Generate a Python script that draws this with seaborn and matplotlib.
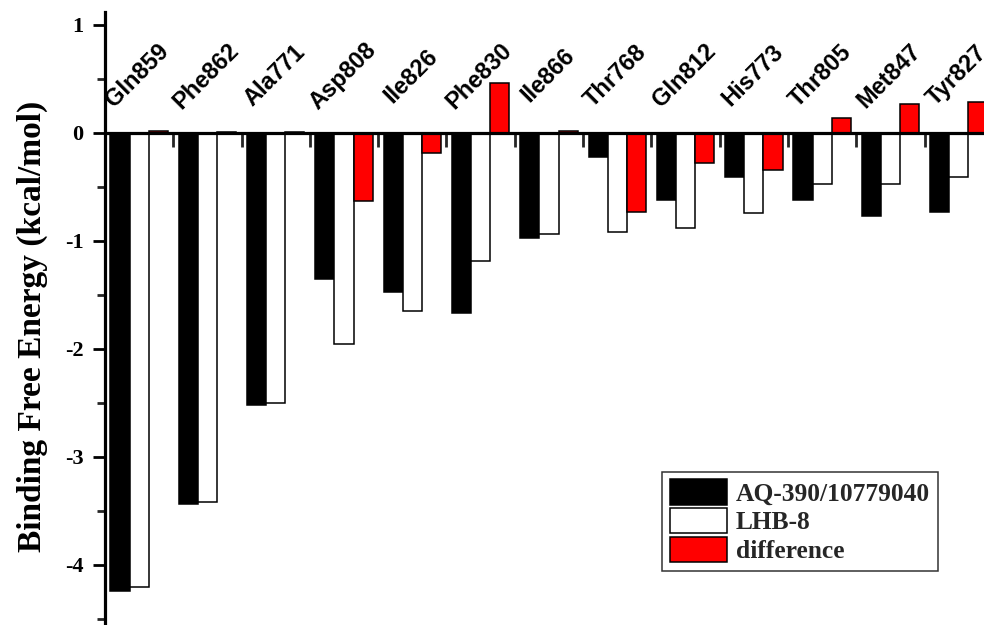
import numpy as np
import pandas as pd
import matplotlib
matplotlib.use("Agg")
import matplotlib.pyplot as plt
from matplotlib.patches import Patch
from matplotlib.ticker import MultipleLocator, FixedLocator
import seaborn as sns

residues = ["Gln859", "Phe862", "Ala771", "Asp808", "Ile826", "Phe830", "Ile866",
            "Thr768", "Gln812", "His773", "Thr805", "Met847", "Tyr827"]
aq390 = [-4.24, -3.44, -2.52, -1.35, -1.47, -1.67, -0.97, -0.22, -0.62, -0.41, -0.62, -0.77, -0.73]
lhb8 = [-4.20, -3.42, -2.50, -1.95, -1.65, -1.19, -0.94, -0.92, -0.88, -0.74, -0.475, -0.47, -0.41]
difference = [0.02, 0.01, 0.01, -0.63, -0.19, 0.46, 0.02, -0.73, -0.28, -0.34, 0.14, 0.27, 0.29]
series_names = ["AQ-390/10779040", "LHB-8", "difference"]
series_colors = ["#000000", "#ffffff", "#ff0000"]
y_label = "Binding Free Energy (kcal/mol)"
y_ticks = [-4, -3, -2, -1, 0, 1]

df = pd.DataFrame({
    "residue": residues * 3,
    "value": aq390 + lhb8 + difference,
    "series": [series_names[0]] * len(residues) + [series_names[1]] * len(residues)
              + [series_names[2]] * len(residues),
})

sns.set_style("white")
plt.rcParams["font.family"] = ["Liberation Serif", "DejaVu Serif"]

fig = plt.figure(figsize=(9.84, 6.25), dpi=100)
ax = fig.add_axes([105 / 984, 0.0, 1 - 105 / 984, (625 - 12) / 625])

sns.barplot(data=df, x="residue", y="value", hue="series", order=residues,
            hue_order=series_names, palette=series_colors, saturation=1,
            edgecolor="black", linewidth=1.1, width=0.84, legend=False, ax=ax)

ax.set_xlim(-0.5, 12.37)
ax.set_ylim(-4.556, 1.12)

for s in ["top", "right"]:
    ax.spines[s].set_visible(False)
ax.spines["left"].set_linewidth(2.3)
ax.spines["left"].set_color("black")
ax.spines["bottom"].set_position(("data", 0))
ax.spines["bottom"].set_linewidth(2.3)
ax.spines["bottom"].set_color("black")
ax.spines["bottom"].set_zorder(5)

ax.set_yticks(y_ticks)
ax.set_yticklabels([str(t) for t in y_ticks], fontsize=16, fontweight="bold")
ax.yaxis.set_minor_locator(MultipleLocator(0.5))
ax.tick_params(axis="y", which="major", direction="out", length=8.6, width=2.0,
               pad=7, left=True, colors="black")
ax.tick_params(axis="y", which="minor", direction="out", length=5.8, width=2.0, left=True)

n = len(residues)
ax.xaxis.set_major_locator(FixedLocator(np.arange(n)))
ax.xaxis.set_minor_locator(FixedLocator(np.arange(n) + 0.5))
ax.tick_params(axis="x", which="both", direction="out", length=10, width=2.0,
               bottom=True, labelbottom=False)
ax.set_xlabel("")
ax.set_ylabel("")

for i, name in enumerate(residues):
    ax.text(i - 0.02, 0.53, name, rotation=45, ha="center", va="center",
            fontsize=17, fontweight="bold", family=["Liberation Sans", "DejaVu Sans"],
            color="black")

fig.text(32 / 984, 1 - 326 / 625, y_label, rotation=90, ha="center", va="center",
         fontsize=24, fontweight="bold", color="black")

handles = [Patch(facecolor=c, edgecolor="black", linewidth=1.1) for c in series_colors]
leg = fig.legend(handles, series_names, loc="lower left",
                 bbox_to_anchor=(662 / 984, (625 - 571) / 625), borderaxespad=0,
                 prop={"weight": "bold", "size": 18.4},
                 handlelength=2.25, handleheight=1.15, handletextpad=0.35,
                 labelspacing=0.1, borderpad=0.3, fancybox=False, frameon=True)
leg.get_frame().set_edgecolor("black")
leg.get_frame().set_linewidth(1.1)

fig.savefig("out.png", dpi=100)
